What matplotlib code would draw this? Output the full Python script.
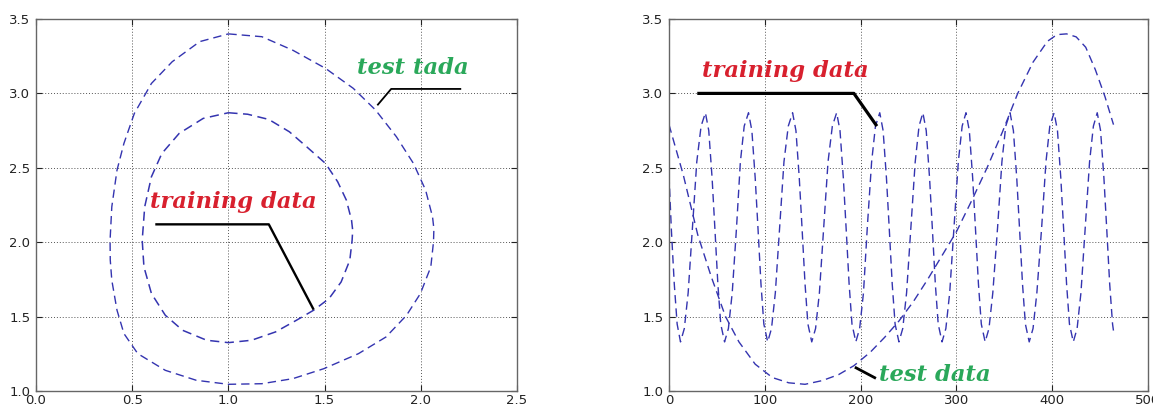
import matplotlib
matplotlib.use('Agg')
import matplotlib.pyplot as plt

# 左图：训练/测试数据的闭合轨迹 (x, y)
inner_x = [1.00, 1.10, 1.21, 1.317, 1.407, 1.505, 1.568, 1.613, 1.640, 1.646, 1.643, 1.631, 1.586,
           1.523, 1.443, 1.353, 1.245, 1.12, 1.00, 0.887, 0.762, 0.672, 0.60, 0.561, 0.552,
           0.565, 0.60, 0.654, 0.744, 0.869, 1.00]
inner_y = [2.87, 2.86, 2.825, 2.742, 2.641, 2.529, 2.406, 2.283, 2.148, 2.08, 2.013, 1.879, 1.733,
           1.621, 1.543, 1.475, 1.397, 1.341, 1.325, 1.341, 1.408, 1.509, 1.655, 1.834, 2.013,
           2.238, 2.44, 2.596, 2.731, 2.832, 2.87]

outer_x = [1.00, 1.174, 1.335, 1.505, 1.649, 1.765, 1.873, 1.962, 2.025, 2.061, 2.068, 2.066, 2.052,
           1.998, 1.926, 1.819, 1.676, 1.496, 1.335, 1.174, 1.00, 0.833, 0.672, 0.529, 0.457,
           0.421, 0.394, 0.386, 0.385, 0.394, 0.421, 0.457, 0.511, 0.60, 0.708, 0.851, 1.00]
outer_y = [3.40, 3.381, 3.29, 3.168, 3.034, 2.888, 2.709, 2.529, 2.35, 2.17, 2.09, 2.002, 1.834,
           1.655, 1.509, 1.363, 1.251, 1.15, 1.083, 1.049, 1.045, 1.072, 1.139, 1.251, 1.386,
           1.543, 1.744, 1.88, 2.013, 2.238, 2.484, 2.664, 2.865, 3.067, 3.213, 3.348, 3.40]

# 右图：随时间变化的 y 值
train_t = [0, 2.5, 5.5, 8.5, 12,
           16, 20, 24.5, 29, 33.5, 38, 41.5, 45, 48, 51, 54, 58,
           62, 66, 70.5, 74.5, 78.5, 83, 86.5, 90, 93, 96, 99, 103,
           107, 111, 115.5, 120, 124.5, 129, 132.5, 136, 139, 142, 145, 149,
           153, 157, 161.5, 166, 170.5, 175, 178.5, 182, 185, 188, 191, 195,
           199, 203, 207, 211.5, 215.5, 220, 223.5, 227, 230, 233, 236, 240,
           244, 248, 252.5, 257, 261, 265, 268.5, 272, 275, 278, 281, 285,
           289, 293, 297.5, 302, 306, 310, 313.5, 317, 320, 323, 326, 330,
           334, 338, 343, 347.5, 351.5, 356, 359.5, 363, 366, 369, 372, 376,
           380, 384, 389, 393.5, 397.5, 402, 405.5, 409, 412, 415, 418, 422,
           426, 430, 434.5, 439, 443, 447, 450.5, 454, 457, 460, 463, 464.5]
train_v = [2.45, 2.08, 1.72, 1.45, 1.33,
           1.42, 1.66, 2.10, 2.54, 2.78, 2.87, 2.75, 2.43, 2.08, 1.72, 1.45, 1.33,
           1.42, 1.66, 2.10, 2.54, 2.78, 2.87, 2.75, 2.43, 2.08, 1.72, 1.45, 1.33,
           1.42, 1.66, 2.10, 2.54, 2.78, 2.87, 2.75, 2.43, 2.08, 1.72, 1.45, 1.33,
           1.42, 1.66, 2.10, 2.54, 2.78, 2.87, 2.75, 2.43, 2.08, 1.72, 1.45, 1.33,
           1.42, 1.66, 2.10, 2.54, 2.78, 2.87, 2.75, 2.43, 2.08, 1.72, 1.45, 1.33,
           1.42, 1.66, 2.10, 2.54, 2.78, 2.87, 2.75, 2.43, 2.08, 1.72, 1.45, 1.33,
           1.42, 1.66, 2.10, 2.54, 2.78, 2.87, 2.75, 2.43, 2.08, 1.72, 1.45, 1.33,
           1.42, 1.66, 2.10, 2.54, 2.78, 2.87, 2.75, 2.43, 2.08, 1.72, 1.45, 1.33,
           1.42, 1.66, 2.10, 2.54, 2.78, 2.87, 2.75, 2.43, 2.08, 1.72, 1.45, 1.33,
           1.42, 1.66, 2.10, 2.54, 2.78, 2.87, 2.75, 2.43, 2.08, 1.72, 1.45, 1.38]

test_t = [0, 15, 30, 44, 59, 73, 90, 108, 125, 142, 160, 177, 193, 210, 225, 240, 255,
          270, 285, 300, 316, 332, 348, 364, 380, 395, 405, 415, 425, 435, 445, 455, 464]
test_v = [2.79, 2.45, 2.05, 1.77, 1.50, 1.33, 1.18, 1.09, 1.055, 1.045, 1.07, 1.11, 1.17,
          1.26, 1.36, 1.47, 1.60, 1.75, 1.91, 2.07, 2.28, 2.50, 2.74, 3.00, 3.21, 3.35,
          3.395, 3.40, 3.38, 3.31, 3.16, 2.98, 2.79]

# 标注引线的折点
left_train_leader = ([0.62, 1.21, 1.443], [2.12, 2.12, 1.547])
left_test_leader = ([2.21, 1.846, 1.774], [3.03, 3.03, 2.92])
right_train_leader = ([29.5, 193, 217], [3.0, 3.0, 2.78])
right_test_leader = ([194, 216], [1.16, 1.085])

LINE_COLOR = '#3434b0'
RED = '#d8202e'
GREEN = '#2aa85a'
DASH = (0, (6, 3.6))
label_font = dict(family='DejaVu Serif', weight='bold', style='italic', size=16.3)


def style_axes(ax, xlim, xticks, xfmt):
    ax.set_xlim(*xlim)
    ax.set_ylim(1.0, 3.5)
    ax.set_xticks(xticks)
    ax.set_xticklabels([xfmt.format(v) for v in xticks])
    ax.set_yticks([1.0, 1.5, 2.0, 2.5, 3.0, 3.5])
    ax.set_yticklabels(['1.0', '1.5', '2.0', '2.5', '3.0', '3.5'])
    ax.grid(True, color='#555555', linestyle=(0, (1, 2)), linewidth=0.7)
    ax.tick_params(direction='in', length=4, labelsize=9.5, colors='#222222',
                   top=True, right=True, pad=4)
    ax.tick_params(axis='x', pad=2.5)
    for s in ax.spines.values():
        s.set_color('#666666')
        s.set_linewidth(1.0)


fig = plt.figure(figsize=(11.53, 4.07), dpi=100)
fig.patch.set_facecolor('white')

ax1 = fig.add_axes([36 / 1153, 16 / 407, 481 / 1153, 372 / 407])
ax2 = fig.add_axes([669 / 1153, 16 / 407, 479 / 1153, 372 / 407])

# 左图
ax1.plot(outer_x, outer_y, color=LINE_COLOR, linestyle=DASH, linewidth=1.0)
ax1.plot(inner_x, inner_y, color=LINE_COLOR, linestyle=DASH, linewidth=1.1)
ax1.plot(*left_train_leader, color='black', linewidth=1.7, solid_capstyle='butt')
ax1.plot(*left_test_leader, color='black', linewidth=1.3, solid_capstyle='butt')
ax1.text(0.59, 2.27, 'training data', color=RED, ha='left', va='center', **label_font)
ax1.text(1.667, 3.17, 'test tada', color=GREEN, ha='left', va='center', **label_font)
style_axes(ax1, (0.0, 2.5), [0.0, 0.5, 1.0, 1.5, 2.0, 2.5], '{:.1f}')

# 右图
ax2.plot(train_t, train_v, color=LINE_COLOR, linestyle=DASH, linewidth=1.0)
ax2.plot(test_t, test_v, color=LINE_COLOR, linestyle=DASH, linewidth=1.0)
ax2.plot(*right_train_leader, color='black', linewidth=2.3, solid_capstyle='butt')
ax2.plot(*right_test_leader, color='black', linewidth=2.0, solid_capstyle='butt')
ax2.text(34, 3.15, 'training data', color=RED, ha='left', va='center', **label_font)
ax2.text(219, 1.105, 'test data', color=GREEN, ha='left', va='center', **label_font)
style_axes(ax2, (0, 500), [0, 100, 200, 300, 400, 500], '{:d}')

fig.savefig('out.png', dpi=100, facecolor='white')
